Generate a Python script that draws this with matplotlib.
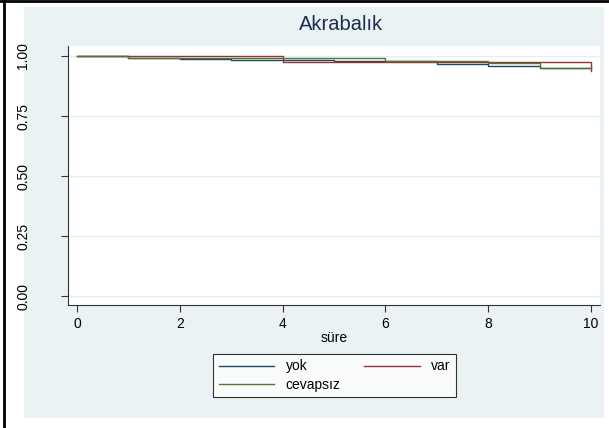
import matplotlib.pyplot as plt
from matplotlib.patches import Rectangle
from matplotlib.lines import Line2D

plt.rcParams['font.family'] = ['Liberation Sans', 'DejaVu Sans']

# Kaplan-Meier survival estimates by group
sure = [0, 1, 2, 3, 4, 5, 6, 7, 8, 9, 10]
yok = [1.0, 0.992, 0.989, 0.985, 0.983, 0.978, 0.978, 0.968, 0.960, 0.950, 0.950]
var = [1.0, 0.999, 0.999, 0.999, 0.975, 0.975, 0.975, 0.975, 0.975, 0.975, 0.939]
cevapsiz = [1.0, 0.992, 0.992, 0.992, 0.990, 0.990, 0.979, 0.979, 0.972, 0.950, 0.950]

yticks = [0.0, 0.25, 0.5, 0.75, 1.0]
ytick_labels = ['0.00', '0.25', '0.50', '0.75', '1.00']
xticks = [0, 2, 4, 6, 8, 10]

W, H = 609, 428
fig = plt.figure(figsize=(W / 100, H / 100), dpi=100)
fig.patch.set_facecolor('white')

# graph region background and outer border
fig.patches.append(Rectangle((24 / W, 1 - 418 / H), 580 / W, 411 / H,
                             transform=fig.transFigure, facecolor='#eaf2f3',
                             edgecolor='none', zorder=-5))
fig.lines.append(Line2D([0, 1], [1 - 1 / H, 1 - 1 / H], transform=fig.transFigure,
                        color='black', lw=2))
fig.lines.append(Line2D([4 / W, 4 / W], [0, 1], transform=fig.transFigure,
                        color='black', lw=2))

ax = fig.add_axes([68 / W, 1 - 305 / H, 532 / W, 259 / H])
ax.set_zorder(1)
ax.set_facecolor('white')

ax.step(sure, yok, where='post', color='#1a476f', lw=1.0, label='yok')
ax.step(sure, var, where='post', color='#90353b', lw=1.0, label='var')
ax.step(sure, cevapsiz, where='post', color='#55752f', lw=1.0, label='cevapsız')

ax.set_xlim(-0.175, 10.175)
ax.set_ylim(-0.0375, 1.0417)
ax.set_xticks(xticks)
ax.set_yticks(yticks)
ax.set_yticklabels(ytick_labels, rotation=90, va='center')
ax.yaxis.grid(True, color='#e6eef0', lw=1)
ax.set_axisbelow(True)

for s in ['top', 'right']:
    ax.spines[s].set_visible(False)
for s in ['left', 'bottom']:
    ax.spines[s].set_color('#333333')
    ax.spines[s].set_linewidth(0.8)

ax.tick_params(axis='y', length=5, width=0.8, pad=22, labelsize=10, color='#333333')
ax.tick_params(axis='x', length=5, width=0.8, pad=4, labelsize=10, color='#333333')

ax.set_xlabel('süre', fontsize=10, labelpad=0)
fig.text(341 / W, 1 - 25 / H, 'Akrabalık', ha='center', va='center',
         fontsize=14.5, color='#1e2d4f')

handles, labels = ax.get_legend_handles_labels()
order = [0, 2, 1]
leg = fig.legend([handles[i] for i in order], [labels[i] for i in order],
                 loc='center', bbox_to_anchor=(334.5 / W, 1 - 375.5 / H),
                 ncol=2, fontsize=10, frameon=True, fancybox=False,
                 edgecolor='black', handlelength=4, columnspacing=1.7,
                 handletextpad=0.8, labelspacing=0.3, borderpad=0.4)
leg.get_frame().set_linewidth(0.8)

fig.savefig('out.png', dpi=100)
